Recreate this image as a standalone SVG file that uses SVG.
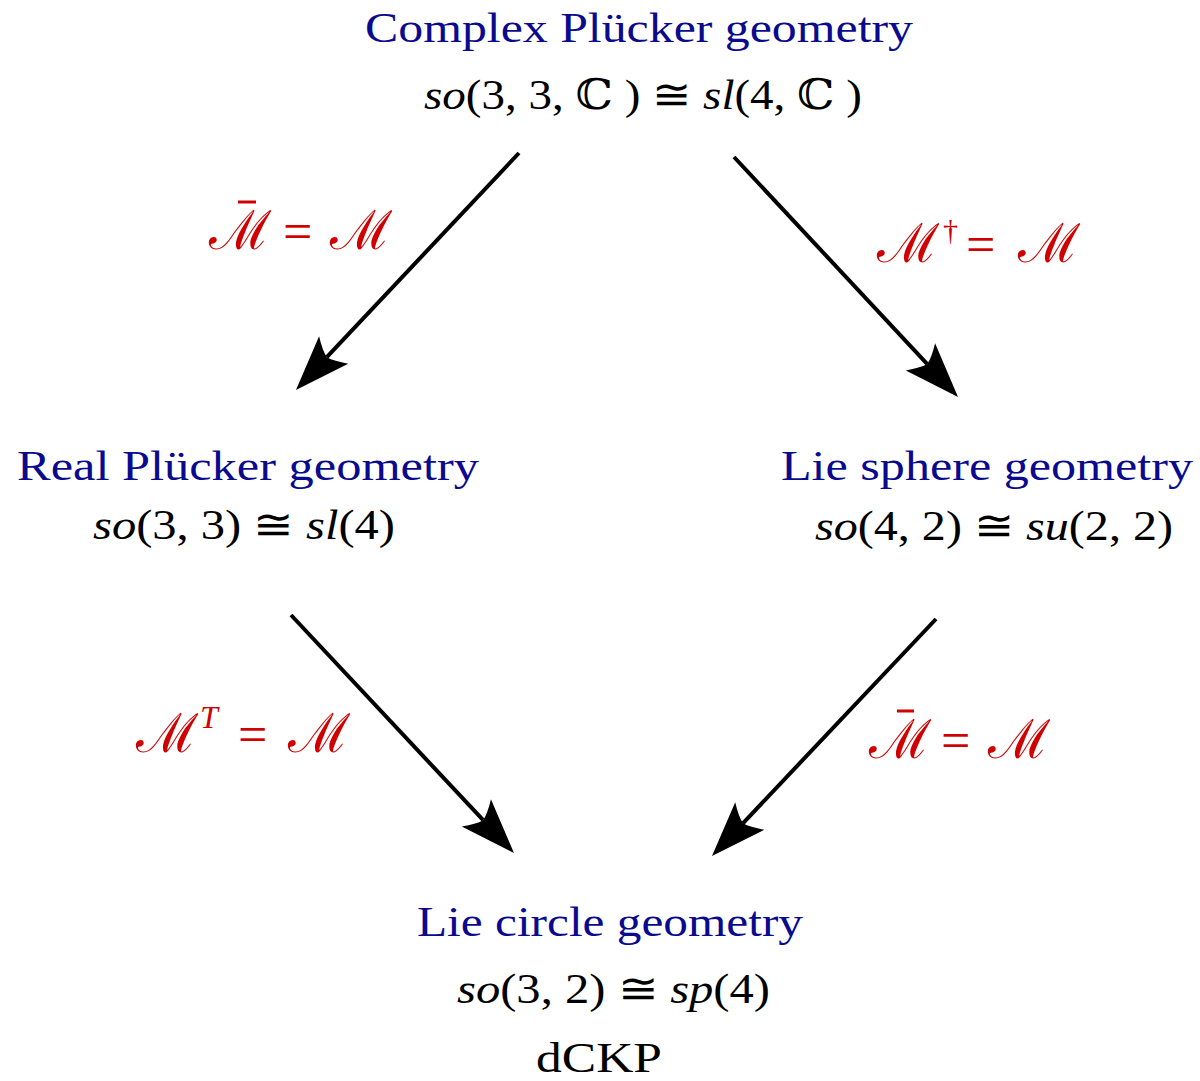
<svg xmlns="http://www.w3.org/2000/svg" width="1200" height="1081" viewBox="0 0 1200 1081">
<style>
text{font-family:"Liberation Serif","DejaVu Serif",serif;font-size:42px;}
.t{fill:#0a0a8e;}
.m{fill:#000;}
.l{fill:#d00000;font-size:54px;}
.eq{font-size:52px;}
.i{font-style:italic;}
.c{font-family:"DejaVu Serif","Liberation Serif",serif;}
.ar{fill:none;stroke:#000;stroke-width:4;}
.bar{stroke:#d00000;stroke-width:3;}
</style>
<defs>
<marker id="ah" markerUnits="userSpaceOnUse" markerWidth="70" markerHeight="50" viewBox="-5 -25 70 50" refX="10" refY="0" orient="auto">
<path d="M55,0 L0,-20 Q8,-8 10,0 Q8,8 0,20 Z" fill="#000"/>
</marker>
</defs>
<rect width="1200" height="1081" fill="#fff"/>
<g id="connectors">
<line class="ar" x1="519" y1="153" x2="326.8" y2="357.2" marker-end="url(#ah)"/>
<line class="ar" x1="734" y1="157" x2="927.3" y2="364.1" marker-end="url(#ah)"/>
<line class="ar" x1="291" y1="615" x2="483.2" y2="820.2" marker-end="url(#ah)"/>
<line class="ar" x1="936" y1="619" x2="742.9" y2="823.3" marker-end="url(#ah)"/>
</g>
<g id="n-complex">
<text class="t" x="365" y="42" textLength="548" lengthAdjust="spacingAndGlyphs">Complex Plücker geometry</text>
<text class="m" x="424" y="109" textLength="438" lengthAdjust="spacingAndGlyphs"><tspan class="i">so</tspan>(3, 3, <tspan class="c">ℂ</tspan> ) ≅ <tspan class="i">sl</tspan>(4, <tspan class="c">ℂ</tspan> )</text>
</g>
<g id="n-real">
<text class="t" x="17" y="480" textLength="462" lengthAdjust="spacingAndGlyphs">Real Plücker geometry</text>
<text class="m" x="93" y="539" textLength="302" lengthAdjust="spacingAndGlyphs"><tspan class="i">so</tspan>(3, 3) ≅ <tspan class="i">sl</tspan>(4)</text>
</g>
<g id="n-liesphere">
<text class="t" x="781" y="480" textLength="412" lengthAdjust="spacingAndGlyphs">Lie sphere geometry</text>
<text class="m" x="815" y="540" textLength="358" lengthAdjust="spacingAndGlyphs"><tspan class="i">so</tspan>(4, 2) ≅ <tspan class="i">su</tspan>(2, 2)</text>
</g>
<g id="n-liecircle">
<text class="t" x="417" y="936" textLength="386" lengthAdjust="spacingAndGlyphs">Lie circle geometry</text>
<text class="m" x="457" y="1003" textLength="313" lengthAdjust="spacingAndGlyphs"><tspan class="i">so</tspan>(3, 2) ≅ <tspan class="i">sp</tspan>(4)</text>
<text class="m" x="536" y="1072" textLength="126" lengthAdjust="spacingAndGlyphs">dCKP</text>
</g>
<g id="labels">
<text class="l" y="249"><tspan x="209">ℳ</tspan><tspan x="283" class="eq">=</tspan><tspan x="330">ℳ</tspan></text>
<line class="bar" x1="238" y1="202" x2="256" y2="202"/>
<text class="l" y="262"><tspan x="877">ℳ</tspan><tspan x="943" y="240" font-size="30">†</tspan><tspan x="966" y="262" class="eq">=</tspan><tspan x="1018">ℳ</tspan></text>
<text class="l" y="752"><tspan x="136">ℳ</tspan><tspan x="200" y="728" font-size="32" class="i">T</tspan><tspan x="238" y="752" class="eq">=</tspan><tspan x="288">ℳ</tspan></text>
<text class="l" y="758"><tspan x="869">ℳ</tspan><tspan x="941" class="eq">=</tspan><tspan x="988">ℳ</tspan></text>
<line class="bar" x1="897" y1="711" x2="914" y2="711"/>
</g>
</svg>
